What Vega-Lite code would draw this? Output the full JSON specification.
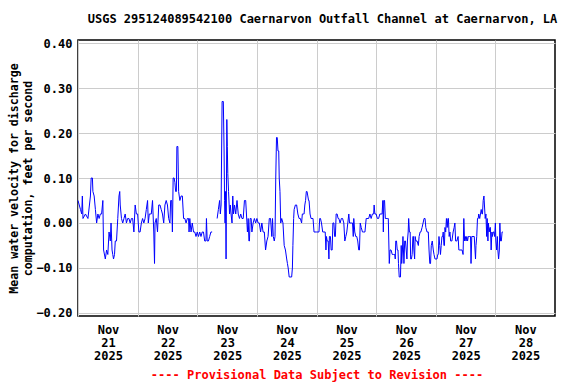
{
  "$schema": "https://vega.github.io/schema/vega-lite/v6.json",
  "width": 477,
  "height": 276,
  "autosize": "none",
  "padding": {"left": 78, "top": 40, "right": 21, "bottom": 68},
  "background": "white",
  "title": {
    "text": "USGS 295124089542100 Caernarvon Outfall Channel at Caernarvon, LA",
    "font": "DejaVu Sans Mono",
    "fontSize": 12,
    "fontWeight": "bold",
    "color": "black",
    "anchor": "middle",
    "dx": 6,
    "offset": 11
  },
  "config": {
    "view": {"stroke": "black", "strokeWidth": 1.5},
    "axis": {
      "labelFont": "DejaVu Sans Mono",
      "labelFontSize": 12,
      "labelFontWeight": "bold",
      "labelColor": "black",
      "titleFont": "DejaVu Sans Mono",
      "titleFontSize": 12,
      "titleFontWeight": "bold",
      "titleColor": "black",
      "gridColor": "#cccccc",
      "gridWidth": 1,
      "gridOpacity": 1,
      "ticks": false,
      "domain": false
    }
  },
  "data": {
    "values": [
      {"t":"2025-11-21T00:00","v":0.05},{"t":"2025-11-21T00:30","v":0.04},{"t":"2025-11-21T01:00","v":0.03},{"t":"2025-11-21T01:30","v":0.02},{"t":"2025-11-21T01:45","v":0.06},{"t":"2025-11-21T02:00","v":0.01},{"t":"2025-11-21T03:00","v":0.02},{"t":"2025-11-21T04:00","v":0.01},{"t":"2025-11-21T05:00","v":0.06},{"t":"2025-11-21T05:18","v":0.10},{"t":"2025-11-21T05:48","v":0.10},{"t":"2025-11-21T06:00","v":0.07},{"t":"2025-11-21T06:30","v":0.06},{"t":"2025-11-21T07:00","v":0.03},{"t":"2025-11-21T07:30","v":0.00},{"t":"2025-11-21T08:00","v":0.02},{"t":"2025-11-21T08:30","v":0.01},{"t":"2025-11-21T09:00","v":0.02},{"t":"2025-11-21T09:30","v":0.02},{"t":"2025-11-21T10:00","v":0.05},{"t":"2025-11-21T10:18","v":-0.06},{"t":"2025-11-21T11:00","v":-0.08},{"t":"2025-11-21T11:30","v":-0.06},{"t":"2025-11-21T12:00","v":-0.07},{"t":"2025-11-21T12:30","v":-0.02},{"t":"2025-11-21T13:00","v":-0.04},{"t":"2025-11-21T13:18","v":0.00},{"t":"2025-11-21T13:42","v":-0.06},{"t":"2025-11-21T14:00","v":-0.07},{"t":"2025-11-21T14:18","v":-0.08},{"t":"2025-11-21T14:42","v":-0.07},{"t":"2025-11-21T15:00","v":-0.04},{"t":"2025-11-21T15:30","v":-0.04},{"t":"2025-11-21T16:00","v":0.01},{"t":"2025-11-21T16:30","v":0.06},{"t":"2025-11-21T16:48","v":0.07},{"t":"2025-11-21T17:00","v":0.04},{"t":"2025-11-21T17:30","v":0.01},{"t":"2025-11-21T18:00","v":0.00},{"t":"2025-11-21T18:30","v":0.01},{"t":"2025-11-21T19:00","v":0.02},{"t":"2025-11-21T19:30","v":0.00},{"t":"2025-11-21T20:00","v":0.01},{"t":"2025-11-21T20:30","v":0.01},{"t":"2025-11-21T21:00","v":0.00},{"t":"2025-11-21T21:30","v":0.01},{"t":"2025-11-21T22:00","v":0.01},{"t":"2025-11-21T22:30","v":-0.02},{"t":"2025-11-21T23:00","v":0.04},{"t":"2025-11-21T23:30","v":0.02},
      {"t":"2025-11-22T00:00","v":0.02},{"t":"2025-11-22T00:30","v":-0.02},{"t":"2025-11-22T01:00","v":-0.02},{"t":"2025-11-22T01:30","v":0.00},{"t":"2025-11-22T02:00","v":0.01},{"t":"2025-11-22T02:30","v":0.00},{"t":"2025-11-22T03:00","v":0.01},{"t":"2025-11-22T03:30","v":0.03},{"t":"2025-11-22T04:00","v":0.05},{"t":"2025-11-22T04:18","v":0.00},{"t":"2025-11-22T04:42","v":0.02},{"t":"2025-11-22T05:00","v":0.02},{"t":"2025-11-22T05:30","v":0.02},{"t":"2025-11-22T06:00","v":0.05},{"t":"2025-11-22T06:30","v":-0.02},{"t":"2025-11-22T06:48","v":-0.09},{"t":"2025-11-22T07:00","v":0.00},{"t":"2025-11-22T07:30","v":0.01},{"t":"2025-11-22T08:00","v":-0.02},{"t":"2025-11-22T08:30","v":0.04},{"t":"2025-11-22T09:00","v":0.04},{"t":"2025-11-22T09:30","v":0.03},{"t":"2025-11-22T10:00","v":0.02},{"t":"2025-11-22T10:30","v":0.00},{"t":"2025-11-22T11:00","v":0.04},{"t":"2025-11-22T11:30","v":0.05},{"t":"2025-11-22T12:00","v":0.04},{"t":"2025-11-22T12:30","v":0.01},{"t":"2025-11-22T13:00","v":0.00},{"t":"2025-11-22T13:18","v":0.05},{"t":"2025-11-22T13:42","v":0.05},{"t":"2025-11-22T14:00","v":-0.02},{"t":"2025-11-22T14:18","v":0.10},{"t":"2025-11-22T14:42","v":0.10},{"t":"2025-11-22T15:00","v":0.09},{"t":"2025-11-22T15:18","v":0.07},{"t":"2025-11-22T15:36","v":0.07},{"t":"2025-11-22T15:48","v":0.17},{"t":"2025-11-22T16:12","v":0.17},{"t":"2025-11-22T16:30","v":0.07},{"t":"2025-11-22T17:00","v":0.05},{"t":"2025-11-22T17:30","v":0.06},{"t":"2025-11-22T18:00","v":0.06},{"t":"2025-11-22T18:30","v":0.01},{"t":"2025-11-22T19:00","v":0.01},{"t":"2025-11-22T19:30","v":0.00},{"t":"2025-11-22T20:00","v":0.01},{"t":"2025-11-22T20:30","v":0.01},{"t":"2025-11-22T20:42","v":-0.02},{"t":"2025-11-22T21:00","v":0.01},{"t":"2025-11-22T21:30","v":-0.02},{"t":"2025-11-22T22:00","v":0.00},{"t":"2025-11-22T22:30","v":-0.02},{"t":"2025-11-22T23:00","v":-0.02},{"t":"2025-11-22T23:30","v":-0.03},
      {"t":"2025-11-23T00:00","v":-0.02},{"t":"2025-11-23T00:30","v":-0.03},{"t":"2025-11-23T01:00","v":-0.02},{"t":"2025-11-23T01:30","v":-0.03},{"t":"2025-11-23T02:00","v":-0.02},{"t":"2025-11-23T02:30","v":-0.02},{"t":"2025-11-23T03:00","v":-0.04},{"t":"2025-11-23T03:30","v":-0.04},{"t":"2025-11-23T03:42","v":0.01},{"t":"2025-11-23T04:00","v":-0.04},{"t":"2025-11-23T04:30","v":-0.04},{"t":"2025-11-23T05:00","v":-0.03},{"t":"2025-11-23T05:30","v":-0.02},{"t":"2025-11-23T06:00","v":-0.02},{"t":"2025-11-23T06:12","v":null},{"t":"2025-11-23T08:00","v":0.01},{"t":"2025-11-23T08:30","v":0.03},{"t":"2025-11-23T09:00","v":0.05},{"t":"2025-11-23T09:18","v":0.02},{"t":"2025-11-23T09:36","v":0.04},{"t":"2025-11-23T10:00","v":0.27},{"t":"2025-11-23T10:30","v":0.27},{"t":"2025-11-23T10:48","v":0.16},{"t":"2025-11-23T11:00","v":0.05},{"t":"2025-11-23T11:12","v":0.00},{"t":"2025-11-23T11:24","v":0.07},{"t":"2025-11-23T11:36","v":-0.08},{"t":"2025-11-23T11:54","v":0.23},{"t":"2025-11-23T12:06","v":0.17},{"t":"2025-11-23T12:18","v":0.11},{"t":"2025-11-23T12:36","v":0.07},{"t":"2025-11-23T13:00","v":0.02},{"t":"2025-11-23T13:18","v":0.04},{"t":"2025-11-23T13:36","v":0.02},{"t":"2025-11-23T14:00","v":0.00},{"t":"2025-11-23T14:18","v":0.06},{"t":"2025-11-23T14:36","v":0.02},{"t":"2025-11-23T15:00","v":0.04},{"t":"2025-11-23T15:30","v":0.02},{"t":"2025-11-23T16:00","v":0.05},{"t":"2025-11-23T16:30","v":0.02},{"t":"2025-11-23T17:00","v":0.01},{"t":"2025-11-23T17:30","v":0.02},{"t":"2025-11-23T18:00","v":0.01},{"t":"2025-11-23T18:30","v":0.01},{"t":"2025-11-23T19:00","v":0.05},{"t":"2025-11-23T19:30","v":0.05},{"t":"2025-11-23T20:00","v":0.00},{"t":"2025-11-23T20:12","v":-0.02},{"t":"2025-11-23T20:30","v":0.01},{"t":"2025-11-23T20:48","v":-0.04},{"t":"2025-11-23T21:00","v":-0.04},{"t":"2025-11-23T21:18","v":0.01},{"t":"2025-11-23T21:42","v":0.01},{"t":"2025-11-23T22:00","v":-0.02},{"t":"2025-11-23T22:30","v":0.00},{"t":"2025-11-23T23:00","v":0.01},{"t":"2025-11-23T23:30","v":0.00},
      {"t":"2025-11-24T00:00","v":0.01},{"t":"2025-11-24T00:30","v":0.00},{"t":"2025-11-24T01:00","v":0.00},{"t":"2025-11-24T01:30","v":-0.02},{"t":"2025-11-24T02:00","v":0.00},{"t":"2025-11-24T02:30","v":-0.02},{"t":"2025-11-24T03:00","v":-0.02},{"t":"2025-11-24T03:30","v":-0.06},{"t":"2025-11-24T04:00","v":-0.04},{"t":"2025-11-24T04:30","v":-0.03},{"t":"2025-11-24T05:00","v":0.01},{"t":"2025-11-24T05:30","v":0.01},{"t":"2025-11-24T06:00","v":-0.03},{"t":"2025-11-24T06:18","v":0.01},{"t":"2025-11-24T06:36","v":-0.03},{"t":"2025-11-24T07:00","v":-0.04},{"t":"2025-11-24T07:18","v":-0.03},{"t":"2025-11-24T07:36","v":0.10},{"t":"2025-11-24T07:54","v":0.19},{"t":"2025-11-24T08:12","v":0.19},{"t":"2025-11-24T08:30","v":0.16},{"t":"2025-11-24T08:48","v":0.16},{"t":"2025-11-24T09:00","v":0.10},{"t":"2025-11-24T09:18","v":0.07},{"t":"2025-11-24T09:36","v":0.00},{"t":"2025-11-24T10:00","v":0.01},{"t":"2025-11-24T10:30","v":0.00},{"t":"2025-11-24T11:00","v":-0.05},{"t":"2025-11-24T11:30","v":-0.06},{"t":"2025-11-24T12:00","v":-0.08},{"t":"2025-11-24T12:18","v":-0.09},{"t":"2025-11-24T12:36","v":-0.10},{"t":"2025-11-24T13:00","v":-0.12},{"t":"2025-11-24T14:00","v":-0.12},{"t":"2025-11-24T14:18","v":-0.10},{"t":"2025-11-24T14:30","v":-0.05},{"t":"2025-11-24T14:48","v":0.01},{"t":"2025-11-24T15:00","v":0.03},{"t":"2025-11-24T15:30","v":0.04},{"t":"2025-11-24T16:00","v":0.04},{"t":"2025-11-24T16:30","v":0.02},{"t":"2025-11-24T17:00","v":0.01},{"t":"2025-11-24T17:30","v":0.01},{"t":"2025-11-24T18:00","v":0.00},{"t":"2025-11-24T18:18","v":0.02},{"t":"2025-11-24T18:42","v":0.02},{"t":"2025-11-24T19:00","v":0.02},{"t":"2025-11-24T19:18","v":0.04},{"t":"2025-11-24T19:36","v":0.05},{"t":"2025-11-24T19:54","v":0.07},{"t":"2025-11-24T20:12","v":0.07},{"t":"2025-11-24T20:30","v":0.06},{"t":"2025-11-24T20:48","v":0.05},{"t":"2025-11-24T21:00","v":0.05},{"t":"2025-11-24T21:24","v":0.02},{"t":"2025-11-24T21:48","v":0.01},{"t":"2025-11-24T22:12","v":0.01},{"t":"2025-11-24T22:36","v":0.01},{"t":"2025-11-24T23:00","v":-0.02},
      {"t":"2025-11-25T00:00","v":-0.02},{"t":"2025-11-25T01:00","v":-0.02},{"t":"2025-11-25T01:18","v":0.01},{"t":"2025-11-25T01:36","v":0.01},{"t":"2025-11-25T02:00","v":0.00},{"t":"2025-11-25T02:30","v":-0.02},{"t":"2025-11-25T03:00","v":-0.02},{"t":"2025-11-25T03:30","v":-0.02},{"t":"2025-11-25T03:48","v":-0.06},{"t":"2025-11-25T04:00","v":-0.03},{"t":"2025-11-25T04:18","v":-0.04},{"t":"2025-11-25T04:42","v":-0.04},{"t":"2025-11-25T05:00","v":-0.08},{"t":"2025-11-25T05:12","v":-0.03},{"t":"2025-11-25T05:36","v":-0.03},{"t":"2025-11-25T05:54","v":-0.06},{"t":"2025-11-25T06:18","v":-0.06},{"t":"2025-11-25T06:36","v":0.00},{"t":"2025-11-25T07:00","v":0.00},{"t":"2025-11-25T07:18","v":-0.03},{"t":"2025-11-25T07:36","v":-0.03},{"t":"2025-11-25T07:54","v":0.02},{"t":"2025-11-25T08:18","v":0.02},{"t":"2025-11-25T08:42","v":0.01},{"t":"2025-11-25T09:00","v":0.01},{"t":"2025-11-25T09:30","v":0.00},{"t":"2025-11-25T10:00","v":0.01},{"t":"2025-11-25T10:30","v":0.01},{"t":"2025-11-25T11:00","v":0.00},{"t":"2025-11-25T11:24","v":-0.04},{"t":"2025-11-25T11:48","v":-0.03},{"t":"2025-11-25T12:12","v":-0.02},{"t":"2025-11-25T12:36","v":0.00},{"t":"2025-11-25T13:00","v":0.02},{"t":"2025-11-25T13:18","v":0.00},{"t":"2025-11-25T14:00","v":0.00},{"t":"2025-11-25T14:30","v":0.00},{"t":"2025-11-25T14:48","v":-0.03},{"t":"2025-11-25T15:00","v":0.01},{"t":"2025-11-25T15:24","v":-0.02},{"t":"2025-11-25T15:48","v":-0.03},{"t":"2025-11-25T16:12","v":-0.03},{"t":"2025-11-25T16:36","v":-0.04},{"t":"2025-11-25T17:00","v":-0.06},{"t":"2025-11-25T17:18","v":-0.06},{"t":"2025-11-25T17:36","v":0.00},{"t":"2025-11-25T18:00","v":-0.01},{"t":"2025-11-25T18:30","v":-0.02},{"t":"2025-11-25T19:00","v":-0.02},{"t":"2025-11-25T19:30","v":-0.02},{"t":"2025-11-25T20:00","v":0.01},{"t":"2025-11-25T21:00","v":0.01},{"t":"2025-11-25T21:30","v":0.02},{"t":"2025-11-25T22:00","v":0.01},{"t":"2025-11-25T22:30","v":0.02},{"t":"2025-11-25T23:00","v":0.02},{"t":"2025-11-25T23:12","v":0.04},{"t":"2025-11-25T23:30","v":0.02},
      {"t":"2025-11-26T00:00","v":0.02},{"t":"2025-11-26T00:30","v":0.01},{"t":"2025-11-26T01:00","v":0.01},{"t":"2025-11-26T01:30","v":0.02},{"t":"2025-11-26T02:00","v":0.02},{"t":"2025-11-26T02:24","v":0.02},{"t":"2025-11-26T02:42","v":0.05},{"t":"2025-11-26T02:54","v":-0.02},{"t":"2025-11-26T03:06","v":0.05},{"t":"2025-11-26T03:24","v":0.05},{"t":"2025-11-26T03:42","v":0.01},{"t":"2025-11-26T04:00","v":0.01},{"t":"2025-11-26T04:30","v":0.01},{"t":"2025-11-26T04:54","v":0.01},{"t":"2025-11-26T05:06","v":-0.04},{"t":"2025-11-26T05:18","v":-0.09},{"t":"2025-11-26T05:36","v":-0.06},{"t":"2025-11-26T06:00","v":-0.06},{"t":"2025-11-26T06:30","v":-0.07},{"t":"2025-11-26T07:00","v":-0.07},{"t":"2025-11-26T07:30","v":-0.07},{"t":"2025-11-26T07:42","v":-0.08},{"t":"2025-11-26T07:54","v":-0.04},{"t":"2025-11-26T08:12","v":-0.04},{"t":"2025-11-26T08:30","v":-0.06},{"t":"2025-11-26T08:48","v":-0.06},{"t":"2025-11-26T09:00","v":-0.09},{"t":"2025-11-26T09:18","v":-0.12},{"t":"2025-11-26T09:48","v":-0.12},{"t":"2025-11-26T10:06","v":-0.05},{"t":"2025-11-26T10:18","v":-0.09},{"t":"2025-11-26T10:36","v":-0.06},{"t":"2025-11-26T10:48","v":-0.03},{"t":"2025-11-26T11:00","v":-0.06},{"t":"2025-11-26T11:12","v":-0.09},{"t":"2025-11-26T11:30","v":-0.04},{"t":"2025-11-26T11:48","v":-0.04},{"t":"2025-11-26T12:06","v":-0.06},{"t":"2025-11-26T12:24","v":-0.08},{"t":"2025-11-26T12:36","v":-0.04},{"t":"2025-11-26T12:54","v":-0.02},{"t":"2025-11-26T13:06","v":0.01},{"t":"2025-11-26T13:24","v":-0.02},{"t":"2025-11-26T13:42","v":-0.02},{"t":"2025-11-26T13:54","v":-0.08},{"t":"2025-11-26T14:12","v":-0.08},{"t":"2025-11-26T14:30","v":-0.07},{"t":"2025-11-26T14:48","v":-0.03},{"t":"2025-11-26T15:00","v":-0.03},{"t":"2025-11-26T15:12","v":-0.06},{"t":"2025-11-26T15:30","v":-0.08},{"t":"2025-11-26T15:42","v":-0.03},{"t":"2025-11-26T16:00","v":-0.04},{"t":"2025-11-26T16:30","v":-0.04},{"t":"2025-11-26T17:00","v":-0.05},{"t":"2025-11-26T17:18","v":-0.03},{"t":"2025-11-26T17:42","v":-0.02},{"t":"2025-11-26T18:00","v":-0.02},{"t":"2025-11-26T18:30","v":-0.01},{"t":"2025-11-26T18:54","v":0.00},{"t":"2025-11-26T19:18","v":0.01},{"t":"2025-11-26T19:42","v":0.01},{"t":"2025-11-26T20:00","v":-0.01},{"t":"2025-11-26T20:30","v":-0.02},{"t":"2025-11-26T21:00","v":-0.02},{"t":"2025-11-26T21:18","v":-0.06},{"t":"2025-11-26T21:36","v":-0.09},{"t":"2025-11-26T21:54","v":-0.09},{"t":"2025-11-26T22:12","v":-0.05},{"t":"2025-11-26T22:36","v":-0.04},{"t":"2025-11-26T23:00","v":-0.06},{"t":"2025-11-26T23:18","v":-0.07},{"t":"2025-11-26T23:42","v":-0.08},
      {"t":"2025-11-27T00:00","v":-0.08},{"t":"2025-11-27T00:30","v":-0.08},{"t":"2025-11-27T00:48","v":-0.07},{"t":"2025-11-27T01:00","v":-0.07},{"t":"2025-11-27T01:18","v":-0.03},{"t":"2025-11-27T01:36","v":-0.05},{"t":"2025-11-27T01:54","v":-0.07},{"t":"2025-11-27T02:12","v":-0.05},{"t":"2025-11-27T02:30","v":-0.03},{"t":"2025-11-27T02:48","v":-0.03},{"t":"2025-11-27T03:00","v":-0.02},{"t":"2025-11-27T03:18","v":-0.05},{"t":"2025-11-27T03:30","v":-0.05},{"t":"2025-11-27T03:42","v":-0.01},{"t":"2025-11-27T04:00","v":-0.02},{"t":"2025-11-27T04:18","v":0.01},{"t":"2025-11-27T04:36","v":-0.01},{"t":"2025-11-27T04:54","v":0.01},{"t":"2025-11-27T05:06","v":0.01},{"t":"2025-11-27T05:24","v":-0.03},{"t":"2025-11-27T05:42","v":-0.02},{"t":"2025-11-27T06:00","v":-0.04},{"t":"2025-11-27T06:30","v":-0.04},{"t":"2025-11-27T07:00","v":-0.02},{"t":"2025-11-27T07:24","v":-0.01},{"t":"2025-11-27T07:42","v":0.00},{"t":"2025-11-27T08:00","v":-0.04},{"t":"2025-11-27T08:30","v":-0.04},{"t":"2025-11-27T09:00","v":-0.03},{"t":"2025-11-27T09:18","v":-0.06},{"t":"2025-11-27T09:42","v":-0.06},{"t":"2025-11-27T10:12","v":-0.06},{"t":"2025-11-27T10:36","v":-0.06},{"t":"2025-11-27T11:00","v":-0.07},{"t":"2025-11-27T11:18","v":0.01},{"t":"2025-11-27T11:36","v":-0.04},{"t":"2025-11-27T11:54","v":-0.03},{"t":"2025-11-27T12:12","v":-0.04},{"t":"2025-11-27T12:30","v":-0.03},{"t":"2025-11-27T12:48","v":-0.04},{"t":"2025-11-27T13:06","v":-0.03},{"t":"2025-11-27T13:30","v":-0.03},{"t":"2025-11-27T14:00","v":-0.03},{"t":"2025-11-27T14:12","v":-0.09},{"t":"2025-11-27T14:30","v":-0.03},{"t":"2025-11-27T15:00","v":-0.03},{"t":"2025-11-27T15:30","v":-0.03},{"t":"2025-11-27T16:00","v":-0.08},{"t":"2025-11-27T16:12","v":-0.05},{"t":"2025-11-27T16:30","v":-0.03},{"t":"2025-11-27T16:48","v":0.01},{"t":"2025-11-27T17:06","v":0.01},{"t":"2025-11-27T17:18","v":0.02},{"t":"2025-11-27T17:42","v":0.01},{"t":"2025-11-27T18:00","v":0.02},{"t":"2025-11-27T18:18","v":0.03},{"t":"2025-11-27T18:36","v":0.02},{"t":"2025-11-27T18:48","v":0.02},{"t":"2025-11-27T19:06","v":0.05},{"t":"2025-11-27T19:24","v":0.06},{"t":"2025-11-27T19:36","v":0.04},{"t":"2025-11-27T19:54","v":0.01},{"t":"2025-11-27T20:12","v":0.02},{"t":"2025-11-27T20:30","v":-0.03},{"t":"2025-11-27T20:42","v":0.01},{"t":"2025-11-27T21:00","v":-0.04},{"t":"2025-11-27T21:12","v":0.00},{"t":"2025-11-27T21:30","v":-0.02},{"t":"2025-11-27T21:48","v":-0.01},{"t":"2025-11-27T22:00","v":-0.01},{"t":"2025-11-27T22:18","v":-0.06},{"t":"2025-11-27T22:36","v":-0.02},{"t":"2025-11-27T22:48","v":-0.03},{"t":"2025-11-27T23:06","v":-0.02},{"t":"2025-11-27T23:24","v":-0.02},{"t":"2025-11-27T23:42","v":-0.03},
      {"t":"2025-11-28T00:00","v":0.00},{"t":"2025-11-28T00:12","v":-0.04},{"t":"2025-11-28T00:30","v":-0.06},{"t":"2025-11-28T00:48","v":-0.03},{"t":"2025-11-28T01:00","v":-0.06},{"t":"2025-11-28T01:18","v":-0.08},{"t":"2025-11-28T01:36","v":-0.06},{"t":"2025-11-28T01:48","v":0.00},{"t":"2025-11-28T02:06","v":-0.04},{"t":"2025-11-28T02:24","v":-0.04},{"t":"2025-11-28T02:42","v":-0.02},{"t":"2025-11-28T03:00","v":-0.02}
    ]
  },
  "mark": {"type": "line", "color": "#0000ff", "strokeWidth": 1, "invalid": "break-paths-filter-domains"},
  "encoding": {
    "x": {
      "field": "t",
      "type": "temporal",
      "scale": {"domain": [{"year": 2025, "month": 11, "date": 21}, {"year": 2025, "month": 11, "date": 29}]},
      "axis": {
        "values": [
          {"year": 2025, "month": 11, "date": 21}, {"year": 2025, "month": 11, "date": 22},
          {"year": 2025, "month": 11, "date": 23}, {"year": 2025, "month": 11, "date": 24},
          {"year": 2025, "month": 11, "date": 25}, {"year": 2025, "month": 11, "date": 26},
          {"year": 2025, "month": 11, "date": 27}, {"year": 2025, "month": 11, "date": 28}
        ],
        "labelExpr": "[timeFormat(datum.value, '%b'), timeFormat(datum.value, '%d'), timeFormat(datum.value, '%Y')]",
        "labelOffset": 30,
        "labelPadding": 8,
        "labelLineHeight": 13,
        "labelAngle": 0,
        "labelAlign": "center",
        "labelOverlap": false,
        "grid": true,
        "title": "---- Provisional Data Subject to Revision ----",
        "titleColor": "#ff0000",
        "titlePadding": 8
      }
    },
    "y": {
      "field": "v",
      "type": "quantitative",
      "scale": {"domain": [-0.2067, 0.4067], "nice": false, "zero": false},
      "axis": {
        "values": [-0.2, -0.1, 0, 0.1, 0.2, 0.3, 0.4],
        "format": ".2f",
        "labelPadding": 6,
        "grid": true,
        "title": ["Mean water velocity for discharge", "computation, feet per second"],
        "titleFontSize": 11.6,
        "titleLineHeight": 14,
        "titlePadding": 2
      }
    }
  }
}
